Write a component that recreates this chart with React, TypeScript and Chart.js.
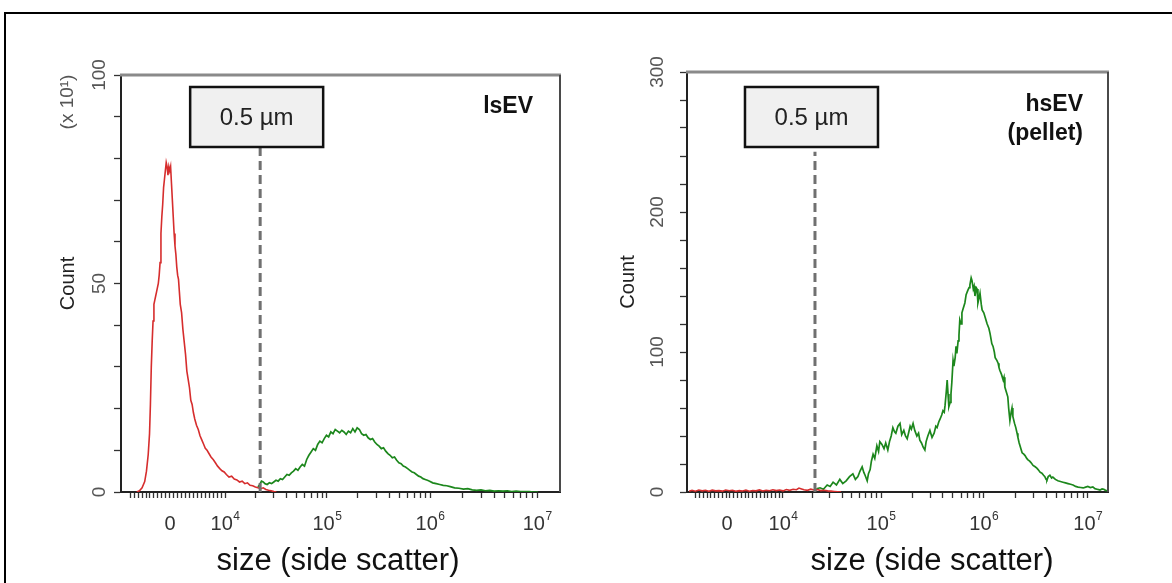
import React, { useEffect, useRef } from "react";
import { Chart, registerables } from "chart.js";

Chart.register(...registerables);

// ---------------- DATA (x = instrument channel 0..1000 on the biexponential display axis, y = count) ----------------
const lsRedChannel = [36, 42, 48, 54, 58, 62, 65, 67, 69, 71, 73, 75, 77, 79, 81, 83, 85, 87, 89, 91, 93, 95, 97, 99, 101, 103, 105, 107, 109, 111, 113, 115, 117, 119, 121, 123, 125, 127, 129, 131, 133, 135, 138, 141, 144, 147, 150, 153, 156, 159, 162, 165, 168, 172, 176, 180, 184, 188, 192, 196, 200, 205, 210, 215, 220, 225, 230, 235, 240, 246, 252, 258, 264, 270, 276, 282, 288, 294, 300, 306, 312, 318, 324, 330, 336, 342, 348, 354];
const lsRedCount = [0, 0.3, 1, 2.5, 5, 9, 14, 21, 30, 36, 41, 45, 46, 47, 48, 49, 50, 52, 55, 62, 66, 69, 73, 75, 77, 79, 78, 76, 78, 77, 78, 74, 70, 66, 62, 59, 57, 54, 52, 51, 48, 45, 43, 39, 36, 33, 29, 27, 25, 22, 21, 19, 17.5, 16, 15, 13.5, 12.5, 11.5, 10.5, 10, 9.3, 8.4, 7.8, 7, 6.2, 5.6, 5.1, 4.8, 4.2, 3.6, 3.8, 3.1, 2.9, 2.4, 2.6, 2.0, 2.2, 1.6, 1.5, 1.2, 1.0, 0.8, 1.0, 0.6, 0.4, 0.3, 0.1, 0];

const lsGreenChannel = [312, 316, 320, 324, 328, 333, 338, 343, 348, 353, 358, 363, 368, 373, 378, 383, 388, 393, 398, 403, 408, 413, 418, 423, 428, 433, 438, 443, 448, 453, 458, 463, 468, 473, 478, 483, 488, 493, 498, 503, 508, 513, 518, 523, 528, 533, 538, 543, 548, 553, 558, 563, 568, 573, 578, 583, 588, 593, 598, 603, 608, 613, 618, 623, 628, 633, 638, 643, 648, 653, 658, 663, 668, 673, 678, 683, 688, 693, 698, 703, 710, 718, 726, 734, 742, 750, 760, 770, 780, 790, 800, 810, 820, 830, 840, 850, 860, 870, 880, 890, 900, 910, 920, 930, 940, 950];
const lsGreenCount = [1.2, 1.8, 2.6, 2.4, 2.0, 1.8, 2.2, 2.0, 2.4, 2.8, 2.6, 3.2, 3.0, 3.6, 4.2, 4.0, 4.6, 5.0, 5.6, 5.2, 6.0, 6.6, 6.2, 7.8, 8.8, 9.6, 10.4, 10.0, 11.4, 12.2, 11.8, 12.8, 13.6, 13.2, 14.4, 14.0, 15.0, 14.6, 14.2, 14.8, 14.4, 13.8, 14.6, 14.2, 15.2, 14.4, 15.4, 15.0, 14.0, 13.6, 13.8, 13.0, 12.6, 12.8, 12.0, 11.4, 11.0, 10.4, 10.6, 9.8, 9.2, 8.8, 8.2, 8.4, 7.6, 7.0, 6.8, 6.2, 6.0, 5.6, 5.2, 4.8, 4.6, 4.2, 3.8, 3.6, 3.2, 3.0, 2.8, 2.6, 2.2, 2.0, 1.8, 1.6, 1.5, 1.3, 1.0, 0.9, 0.7, 0.8, 0.5, 0.4, 0.5, 0.3, 0.4, 0.2, 0.3, 0.2, 0.3, 0.1, 0.2, 0.1, 0.1, 0.1, 0, 0];

const hsRedChannel = [5, 12, 20, 28, 36, 44, 52, 60, 68, 76, 84, 92, 100, 108, 116, 124, 132, 140, 148, 156, 164, 172, 180, 188, 196, 204, 212, 220, 228, 236, 244, 252, 260, 266, 272, 278, 286, 294, 302, 310, 318, 326, 334, 342, 350, 358, 366];
const hsRedCount = [0.5, 1.2, 0.6, 1.4, 0.8, 1.2, 0.5, 1.3, 0.8, 1.0, 0.6, 1.4, 0.9, 1.2, 0.5, 1.0, 0.7, 1.3, 0.6, 1.1, 0.8, 1.5, 0.7, 1.2, 0.9, 1.6, 1.0, 1.4, 0.8, 1.8, 1.2, 2.0, 1.6, 2.8, 2.2, 1.6, 1.2, 2.0, 1.4, 1.8, 1.0, 1.2, 0.8, 0.6, 0.4, 0.2, 0];

const hsGreenChannel = [304, 310, 316, 324, 333, 340, 347, 355, 363, 370, 378, 386, 394, 400, 406, 411, 416, 420, 423, 428, 431, 435, 438, 442, 446, 451, 455, 458, 463, 468, 472, 477, 481, 485, 489, 493, 496, 501, 506, 510, 515, 519, 523, 527, 530, 533, 537, 541, 546, 550, 553, 557, 561, 565, 568, 572, 577, 582, 587, 591, 594, 598, 601, 605, 608, 611, 613, 616, 618, 620, 622, 625, 627, 629, 632, 634, 637, 639, 641, 644, 646, 648, 651, 653, 656, 660, 663, 667, 670, 672, 675, 677, 680, 682, 684, 687, 689, 691, 694, 696, 699, 701, 705, 708, 711, 713, 717, 720, 724, 727, 730, 732, 736, 739, 741, 743, 747, 751, 753, 755, 758, 762, 764, 767, 770, 772, 774, 778, 781, 784, 786, 789, 791, 794, 796, 800, 803, 807, 810, 814, 817, 822, 827, 831, 834, 839, 843, 847, 850, 853, 855, 858, 862, 866, 869, 875, 881, 887, 893, 899, 905, 911, 917, 923, 929, 935, 941, 947, 952, 958, 964, 969, 974, 978, 981, 986, 990, 994, 998];
const hsGreenCount = [1, 2.5, 3, 2, 5, 4, 7, 5, 9, 6, 8, 11, 13, 9, 11, 15, 18, 14, 12, 8, 13, 16, 22, 27, 24, 33, 29, 36, 34, 31, 35, 30, 36, 40, 46, 43, 42, 47, 49, 41, 44, 40, 38, 43, 47, 45, 49, 44, 40, 42, 37, 35, 32, 30, 36, 40, 44, 39, 42, 47, 46, 50, 52, 55, 58, 57, 62, 72, 80, 70, 61, 64, 70, 78, 94, 90, 96, 104, 99, 108, 112, 123, 120, 128, 131, 135, 141, 144, 146, 148, 153, 151, 145, 147, 140, 146, 145, 135, 139, 142, 134, 130, 128, 125, 122, 120, 117, 113, 106, 104, 100, 96, 94, 92, 89, 87, 84, 80, 82, 75, 72, 68, 60, 51, 57, 60, 54, 49, 46, 42, 39, 35, 33, 30, 28, 27, 26, 24, 23, 22, 21, 19, 18, 17, 16, 14, 13.5, 12, 11, 9, 8.6, 11, 12, 10, 10.7, 9, 8, 7.5, 7, 6.5, 6, 5.5, 5, 4, 3.5, 3.2, 2.9, 3.5, 4, 3.2, 3.6, 2.4, 2, 1.7, 1.4, 2.2, 2, 1.2, 1];

// axis tick labels (channel position of each decade label)
const xTickBase = ["0", "10", "10", "10", "10"];
const xTickExp = ["", "4", "5", "6", "7"];
const lsXTickChannel = [112, 237, 469, 704, 948];
const hsXTickChannel = [95, 228, 461, 705, 952];

const lsYLabels = [0, 50, 100];
const hsYLabels = [0, 100, 200, 300];
const lsYMax = 100;
const hsYMax = 300;
const lsYMinorStep = 10;
const hsYMinorStep = 20;

// 0.5 µm size gate
const gateLabel = "0.5 µm";
const lsGateChannel = 317;
const lsGateTop = 82.5;
const hsGateChannel = 304;
const hsGateTop = 243;

const lsTitle = ["lsEV"];
const hsTitle = ["hsEV", "(pellet)"];
const xAxisTitle = "size (side scatter)";
const yAxisTitle = "Count";
const lsYMultiplier = "(x 10¹)";

const FONT = 'Arial, "Liberation Sans", sans-serif';

type Panel = {
  canvasLeft: number;
  canvasWidth: number;
  padTop: number;
  padRight: number;
  yAxisWidth: number;
  yMax: number;
  yStep: number;
  yLabels: number[];
  yLabelOffset: number;
  countOffset: number;
  xTickChannel: number[];
  redX: number[];
  redY: number[];
  greenX: number[];
  greenY: number[];
  gateX: number;
  gateTop: number;
  title: string[];
  titleRightOffset: number;
  titleY: number;
  xTitleCenter: number;
  multiplier?: string;
};

const panels: Panel[] = [
  {
    canvasLeft: 0,
    canvasWidth: 600,
    padTop: 75,
    padRight: 40,
    yAxisWidth: 121,
    yMax: lsYMax,
    yStep: lsYMinorStep,
    yLabels: lsYLabels,
    yLabelOffset: 21,
    countOffset: 53,
    xTickChannel: lsXTickChannel,
    redX: lsRedChannel,
    redY: lsRedCount,
    greenX: lsGreenChannel,
    greenY: lsGreenCount,
    gateX: lsGateChannel,
    gateTop: lsGateTop,
    title: lsTitle,
    titleRightOffset: 27,
    titleY: 107,
    xTitleCenter: 338,
    multiplier: lsYMultiplier,
  },
  {
    canvasLeft: 600,
    canvasWidth: 572,
    padTop: 72,
    padRight: 64,
    yAxisWidth: 87,
    yMax: hsYMax,
    yStep: hsYMinorStep,
    yLabels: hsYLabels,
    yLabelOffset: 29,
    countOffset: 59,
    xTickChannel: hsXTickChannel,
    redX: hsRedChannel,
    redY: hsRedCount,
    greenX: hsGreenChannel,
    greenY: hsGreenCount,
    gateX: hsGateChannel,
    gateTop: hsGateTop,
    title: hsTitle,
    titleRightOffset: 25,
    titleY: 105,
    xTitleCenter: 332,
  },
];

function buildXTicks(major: number[]): number[] {
  const t: number[] = [];
  const step = 9;
  for (let v = major[1] - step; v > 18; v -= step) t.push(v);
  for (let i = 1; i < major.length - 1; i++) {
    const a = major[i];
    const b = major[i + 1];
    for (let k = 2; k <= 9; k++) t.push(a + (b - a) * Math.log10(k));
  }
  return t.concat(major.slice(1)).sort((p, q) => p - q);
}

function zip(xs: number[], ys: number[]) {
  return xs.map((x, i) => ({ x, y: ys[i] }));
}

function decorPlugin(p: Panel) {
  return {
    id: "panelDecor",
    afterDraw(chart: any) {
      const { ctx, chartArea: a, scales } = chart;
      const xs = scales.x;
      const ys = scales.y;
      ctx.save();
      // top & right frame
      ctx.strokeStyle = "#8a8a8a";
      ctx.lineWidth = 3;
      ctx.beginPath();
      ctx.moveTo(a.left - 1, a.top);
      ctx.lineTo(a.right + 1, a.top);
      ctx.stroke();
      ctx.strokeStyle = "#4a4a4a";
      ctx.lineWidth = 2;
      ctx.beginPath();
      ctx.moveTo(a.right, a.top);
      ctx.lineTo(a.right, a.bottom);
      ctx.stroke();

      // y tick labels (rotated)
      ctx.fillStyle = "#555";
      ctx.font = `19px ${FONT}`;
      ctx.textAlign = "center";
      ctx.textBaseline = "middle";
      for (const v of p.yLabels) {
        const y = ys.getPixelForValue(v);
        ctx.save();
        ctx.translate(a.left - p.yLabelOffset, y);
        ctx.rotate(-Math.PI / 2);
        ctx.fillText(String(v), 0, 0);
        ctx.restore();
      }
      // Count
      ctx.fillStyle = "#222";
      ctx.font = `20px ${FONT}`;
      ctx.save();
      ctx.translate(a.left - p.countOffset, (a.top + a.bottom) / 2);
      ctx.rotate(-Math.PI / 2);
      ctx.fillText(yAxisTitle, 0, 0);
      ctx.restore();
      if (p.multiplier) {
        ctx.fillStyle = "#555";
        ctx.font = `19px ${FONT}`;
        ctx.save();
        ctx.translate(a.left - p.countOffset, 102);
        ctx.rotate(-Math.PI / 2);
        ctx.fillText(p.multiplier, 0, 0);
        ctx.restore();
      }

      // x tick labels
      ctx.fillStyle = "#333";
      for (let i = 0; i < xTickBase.length; i++) {
        const cx = xs.getPixelForValue(p.xTickChannel[i]);
        const base = xTickBase[i];
        const exp = xTickExp[i];
        ctx.font = `20px ${FONT}`;
        const wb = ctx.measureText(base).width;
        ctx.font = `12px ${FONT}`;
        const we = exp ? ctx.measureText(exp).width : 0;
        const start = cx - (wb + we) / 2;
        ctx.textAlign = "left";
        ctx.textBaseline = "middle";
        ctx.font = `20px ${FONT}`;
        ctx.fillText(base, start, a.bottom + 32);
        if (exp) {
          ctx.font = `12px ${FONT}`;
          ctx.fillText(exp, start + wb + 0.5, a.bottom + 25);
        }
      }

      // x axis title
      ctx.fillStyle = "#111";
      ctx.font = `31px ${FONT}`;
      ctx.textAlign = "center";
      ctx.textBaseline = "middle";
      ctx.fillText(xAxisTitle, p.xTitleCenter, 561);

      // gate box
      const gx = xs.getPixelForValue(p.gateX);
      const bx = gx - 70;
      const by = 87;
      const bw = 133;
      const bh = 60;
      ctx.fillStyle = "#f0f0f0";
      ctx.fillRect(bx, by, bw, bh);
      ctx.strokeStyle = "#111";
      ctx.lineWidth = 2.5;
      ctx.strokeRect(bx, by, bw, bh);
      ctx.fillStyle = "#222";
      ctx.font = `24px ${FONT}`;
      ctx.fillText(gateLabel, bx + bw / 2, by + bh / 2 + 1);

      // sample title
      ctx.fillStyle = "#111";
      ctx.font = `bold 23px ${FONT}`;
      ctx.textAlign = "right";
      p.title.forEach((t, i) => {
        ctx.fillText(t, a.right - p.titleRightOffset, p.titleY + i * 29);
      });
      ctx.restore();
    },
  };
}

function PanelChart({ p }: { p: Panel }) {
  const ref = useRef<HTMLCanvasElement | null>(null);
  useEffect(() => {
    if (!ref.current) return;
    const xTicks = buildXTicks(p.xTickChannel);
    const yTicks: number[] = [];
    for (let v = 0; v <= p.yMax + 0.001; v += p.yStep) yTicks.push(v);
    const chart = new Chart(ref.current, {
      type: "line",
      data: {
        datasets: [
          {
            label: "gate",
            data: [
              { x: p.gateX, y: 0 },
              { x: p.gateX, y: p.gateTop },
            ],
            borderColor: "#707070",
            borderWidth: 3,
            borderDash: [9, 5],
            pointRadius: 0,
            fill: false,
          },
          {
            label: "below",
            data: zip(p.redX, p.redY),
            borderColor: "rgb(214,45,45)",
            borderWidth: 1.6,
            pointRadius: 0,
            tension: 0,
            fill: false,
          },
          {
            label: "above",
            data: zip(p.greenX, p.greenY),
            borderColor: "rgb(28,135,28)",
            borderWidth: 1.7,
            pointRadius: 0,
            tension: 0,
            fill: false,
          },
        ],
      },
      options: {
        responsive: false,
        animation: false,
        layout: { padding: { top: p.padTop, right: p.padRight, left: 0, bottom: 0 } },
        plugins: { legend: { display: false }, tooltip: { enabled: false } },
        scales: {
          x: {
            type: "linear",
            min: 0,
            max: 1000,
            afterBuildTicks: (s: any) => {
              s.ticks = xTicks.map((value) => ({ value }));
            },
            afterFit: (s: any) => {
              s.height = 91;
            },
            ticks: { display: false },
            grid: {
              display: true,
              drawOnChartArea: false,
              drawTicks: true,
              tickLength: 6,
              tickColor: "#333",
              tickWidth: 1.3,
            },
            border: { display: true, color: "#222", width: 2 },
          },
          y: {
            type: "linear",
            min: 0,
            max: p.yMax,
            afterBuildTicks: (s: any) => {
              s.ticks = yTicks.map((value) => ({ value }));
            },
            afterFit: (s: any) => {
              s.width = p.yAxisWidth;
            },
            ticks: { display: false },
            grid: {
              display: true,
              drawOnChartArea: false,
              drawTicks: true,
              tickLength: 7,
              tickColor: "#333",
              tickWidth: 1.3,
            },
            border: { display: true, color: "#222", width: 2 },
          },
        },
      } as any,
      plugins: [decorPlugin(p)],
    });
    return () => chart.destroy();
  }, [p]);
  return (
    <canvas
      ref={ref}
      width={p.canvasWidth}
      height={583}
      style={{ position: "absolute", left: p.canvasLeft, top: 0, width: p.canvasWidth, height: 583 }}
    />
  );
}

export default function App() {
  return (
    <div
      style={{
        position: "absolute",
        left: 0,
        top: 0,
        width: 1172,
        height: 583,
        background: "#fff",
        overflow: "hidden",
      }}
    >
      <div
        style={{
          position: "absolute",
          left: 4,
          top: 12,
          width: 1200,
          height: 600,
          borderTop: "2px solid #000",
          borderLeft: "2px solid #000",
        }}
      />
      {panels.map((p, i) => (
        <PanelChart key={i} p={p} />
      ))}
    </div>
  );
}
